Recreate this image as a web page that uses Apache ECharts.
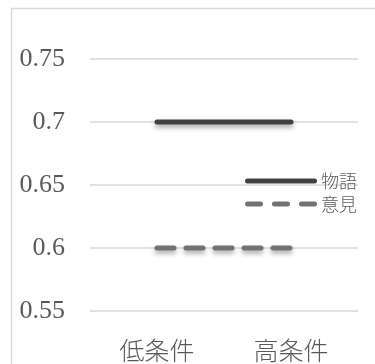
<!DOCTYPE html>
<html>
<head>
<meta charset="utf-8">
<script src="https://cdn.jsdelivr.net/npm/echarts@6/dist/echarts.min.js"></script>
<style>
html,body{margin:0;padding:0;background:#fff;}
#chart{width:375px;height:364px;}
</style>
</head>
<body>
<div id="chart"></div>
<script>
const categories = ['低条件', '高条件'];
const storyValues = [0.7, 0.7];
const opinionValues = [0.6, 0.6];
const seriesNames = ['物語', '意見'];
const yTicks = [0.55, 0.6, 0.65, 0.7, 0.75];

const chart = echarts.init(document.getElementById('chart'));
const serif = '"Liberation Serif", "Times New Roman", serif';
const jp = '"Noto Sans CJK JP", sans-serif';
const solidIcon = 'path://M2.5,0 L69.5,0 A2.5,2.5 0 0 1 69.5,5 L2.5,5 A2.5,2.5 0 0 1 2.5,0 Z';
const dashIcon = 'path://M2.5,0 L15.5,0 A2.5,2.5 0 0 1 15.5,5 L2.5,5 A2.5,2.5 0 0 1 2.5,0 Z ' +
  'M29.5,0 L42.5,0 A2.5,2.5 0 0 1 42.5,5 L29.5,5 A2.5,2.5 0 0 1 29.5,0 Z ' +
  'M56.5,0 L69.5,0 A2.5,2.5 0 0 1 69.5,5 L56.5,5 A2.5,2.5 0 0 1 56.5,0 Z';
chart.setOption({
  animation: false,
  graphic: [{
    type: 'polyline',
    shape: { points: [[11.5, 400], [11.5, 8.5], [400, 8.5]] },
    style: { stroke: '#d9d9d9', lineWidth: 1.5, fill: null }
  }],
  grid: { left: 90, right: 17, top: 59, bottom: 53, containLabel: false },
  legend: {
    orient: 'vertical',
    left: 240,
    top: 167,
    itemWidth: 72,
    itemHeight: 5,
    itemGap: 5,
    data: [
      { name: seriesNames[0], icon: solidIcon, itemStyle: { color: '#404040' } },
      { name: seriesNames[1], icon: dashIcon, itemStyle: { color: '#767171' } }
    ],
    textStyle: { fontFamily: jp, fontSize: 18, fontWeight: 300, color: '#595959', padding: [0, 0, 0, -1] }
  },
  xAxis: {
    type: 'category',
    data: categories,
    boundaryGap: true,
    axisLine: { show: false },
    axisTick: { show: false },
    axisLabel: { fontFamily: jp, fontSize: 25, fontWeight: 300, color: '#595959', margin: 27 }
  },
  yAxis: {
    type: 'value',
    min: yTicks[0],
    max: yTicks[yTicks.length - 1],
    interval: 0.05,
    axisLine: { show: false },
    axisTick: { show: false },
    splitLine: { lineStyle: { color: '#d9d9d9', width: 1.5 } },
    axisLabel: {
      fontFamily: serif, fontSize: 26, color: '#595959', margin: 25,
      formatter: v => {
        const t = yTicks.find(x => Math.abs(x - v) < 1e-6);
        return t === undefined ? '' : String(t);
      }
    }
  },
  series: [
    {
      name: seriesNames[0],
      type: 'line',
      data: storyValues,
      symbol: 'none',
      lineStyle: {
        color: '#404040', width: 5, cap: 'round',
        shadowColor: 'rgba(0,0,0,0.35)', shadowBlur: 5, shadowOffsetY: 3
      },
      itemStyle: { color: '#404040' }
    },
    {
      name: seriesNames[1],
      type: 'line',
      data: opinionValues,
      symbol: 'none',
      lineStyle: {
        color: '#767171', width: 5, cap: 'round', type: [17, 12],
        shadowColor: 'rgba(0,0,0,0.35)', shadowBlur: 5, shadowOffsetY: 3
      },
      itemStyle: { color: '#767171' }
    }
  ]
});
</script>
</body>
</html>
